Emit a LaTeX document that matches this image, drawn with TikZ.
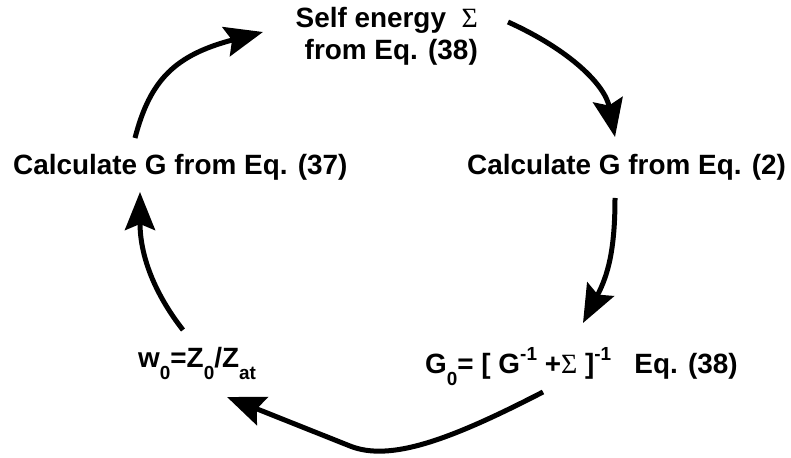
\documentclass[tikz,border=0pt]{standalone}
\usepackage{fontspec}
\setmainfont{Liberation Sans}
\newfontfamily\greekfont{Liberation Serif}
\usetikzlibrary{arrows.meta}

\newcommand{\sgm}{{\greekfont\mdseries Σ}}
\newcommand{\dnidx}[1]{\raisebox{-0.4em}{\fontsize{19}{19}\selectfont #1}}
\newcommand{\upidx}[1]{\raisebox{0.5em}{\fontsize{19}{19}\selectfont #1}}

\begin{document}
\begin{tikzpicture}[x=1bp, y=-1bp,
  lbl/.style={inner sep=0pt, font=\fontsize{28}{32}\selectfont\bfseries},
  cyc/.style={line width=5bp, -{Stealth[length=38bp,width=30bp,inset=6bp]}}]
  \useasboundingbox (0,0) rectangle (791,458);
  % labels of the loop
  \node[lbl, anchor=base east] (self) at (478,28) {Self energy~~\sgm};
  \node[lbl, anchor=base east] (selfeq) at (478,60) {from Eq. (38)};
  \node[lbl, anchor=base west] (calcB) at (467,175) {Calculate G from Eq. (2)};
  \node[lbl, anchor=base west] (gzero) at (425,374) {G\dnidx{0}= [ G\upidx{-1} +\sgm\ ]\upidx{-1}~~~Eq. (38)};
  \node[lbl, anchor=base west] (wzero) at (138,368) {w\dnidx{0}=Z\dnidx{0}/Z\dnidx{at}};
  \node[lbl, anchor=base west] (calcA) at (13,175) {Calculate G from Eq. (37)};
  % arrow ends
  \coordinate (a1) at (135,138);  \coordinate (b1) at (263,32);
  \coordinate (a2) at (508,22);   \coordinate (b2) at (615,137);
  \coordinate (a3) at (615,198);  \coordinate (b3) at (583,323);
  \coordinate (a4) at (543,392);  \coordinate (b4) at (227,397);
  \coordinate (a5) at (183,330);  \coordinate (b5) at (140,192);
  \draw[cyc] (a1) .. controls (150,80) and (175,55) .. (b1);
  \draw[cyc] (a2) .. controls (570,50) and (605,85) .. (b2);
  \draw[cyc] (a3) .. controls (615,250) and (608,275) .. (b3);
  \draw[cyc] (a4) .. controls (450,440) and (390,462) .. (350,446) -- (b4);
  \draw[cyc] (a5) .. controls (158,298) and (140,260) .. (b5);
\end{tikzpicture}
\end{document}
